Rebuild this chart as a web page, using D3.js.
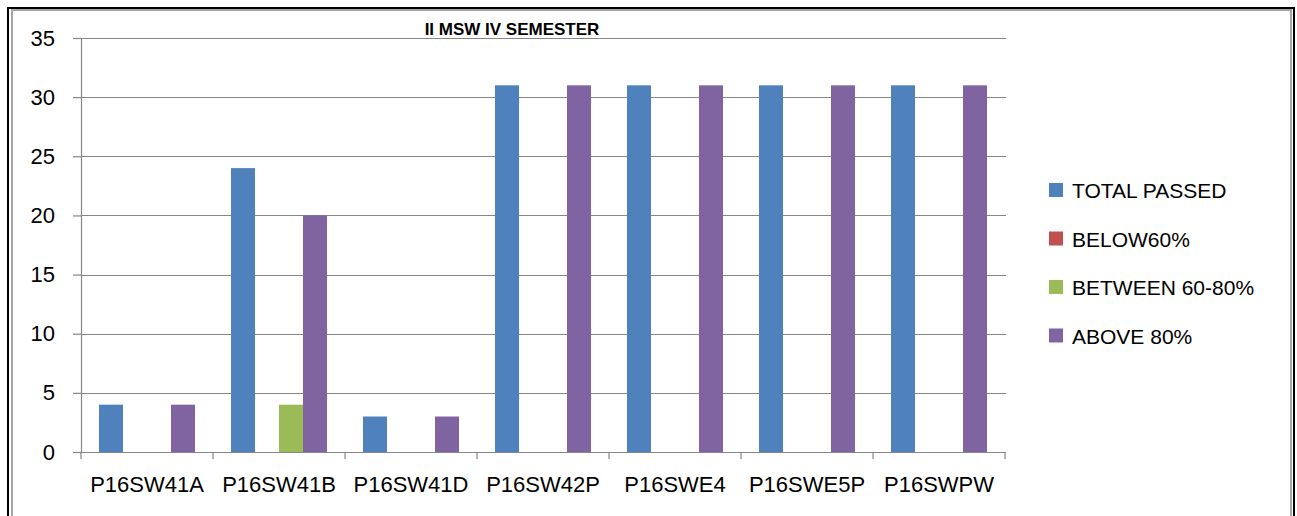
<!DOCTYPE html>
<html>
<head>
<meta charset="utf-8">
<script src="https://cdn.jsdelivr.net/npm/d3@7"></script>
<style>
  body { margin: 0; background: #fff; }
  text { font-family: "Liberation Sans", Arial, sans-serif; fill: #000; }
</style>
</head>
<body>
<div id="chart"></div>
<script>
// chart values
var categories = ["P16SW41A", "P16SW41B", "P16SW41D", "P16SW42P", "P16SWE4", "P16SWE5P", "P16SWPW"];
var seriesNames = ["TOTAL PASSED", "BELOW60%", "BETWEEN 60-80%", "ABOVE 80%"];
var totalPassed = [4, 24, 3, 31, 31, 31, 31];
var below60 = [0, 0, 0, 0, 0, 0, 0];
var between6080 = [0, 4, 0, 0, 0, 0, 0];
var above80 = [4, 20, 3, 31, 31, 31, 31];
var yTicks = [0, 5, 10, 15, 20, 25, 30, 35];
var titleText = "II MSW IV SEMESTER";

var seriesValues = [totalPassed, below60, between6080, above80];
var colors = ["#4F81BD", "#C0504D", "#9BBB59", "#8064A2"];

var svgWidth = 1297;
var svgHeight = 516;

var plot = { left: 81, right: 1005, top: 38, bottom: 452 };

var svg = d3.select("#chart")
  .append("svg")
  .attr("width", svgWidth)
  .attr("height", svgHeight);

// frame lines
svg.append("path")
  .attr("d", "M8,516 V8 H1294 V516")
  .attr("fill", "none")
  .attr("stroke", "#000")
  .attr("stroke-width", 2);

svg.append("path")
  .attr("d", "M12,516 V10 H1291 V516")
  .attr("fill", "none")
  .attr("stroke", "#a6a6a6")
  .attr("stroke-width", 2);

var yScale = d3.scaleLinear()
  .domain([0, 35])
  .range([plot.bottom, plot.top]);

var x0 = d3.scaleBand()
  .domain(categories)
  .range([plot.left, plot.right])
  .paddingInner(0)
  .paddingOuter(0);

var x1 = d3.scaleBand()
  .domain(seriesNames)
  .range([0, x0.bandwidth()])
  .paddingInner(0)
  .paddingOuter(0.75);

// gridlines
svg.append("g")
  .selectAll("line")
  .data(yTicks.filter(d => d > 0))
  .enter()
  .append("line")
  .attr("x1", plot.left)
  .attr("x2", plot.right + 1)
  .attr("y1", d => Math.round(yScale(d)) + 0.5)
  .attr("y2", d => Math.round(yScale(d)) + 0.5)
  .attr("stroke", "#868686")
  .attr("stroke-width", 1.2);

// y axis
var leftAxis = d3.axisLeft(yScale)
  .tickValues(yTicks)
  .tickSize(8)
  .tickPadding(18);

var yAxis = svg.append("g")
  .attr("transform", `translate(${plot.left}, 0)`)
  .call(leftAxis);

yAxis.select(".domain").attr("stroke", "#868686").attr("stroke-width", 1.2);
yAxis.selectAll(".tick line").attr("stroke", "#868686").attr("stroke-width", 1.2);
yAxis.selectAll(".tick text")
  .attr("font-size", "22px")
  .attr("font-family", "Liberation Sans, Arial, sans-serif")
  .attr("fill", "#000");

// bars
var groups = svg.append("g")
  .selectAll("g")
  .data(categories)
  .enter()
  .append("g")
  .attr("transform", d => `translate(${x0(d)}, 0)`);

groups.selectAll("rect")
  .data((d, i) => seriesNames.map((s, j) => ({ series: s, value: seriesValues[j][i], color: colors[j] })))
  .enter()
  .append("rect")
  .attr("x", d => x1(d.series))
  .attr("width", x1.bandwidth())
  .attr("y", d => yScale(d.value))
  .attr("height", d => yScale(0) - yScale(d.value))
  .attr("fill", d => d.color);

// x axis
var bottomAxis = d3.axisBottom(x0).tickSize(0).tickPadding(24);

var xAxis = svg.append("g")
  .attr("transform", `translate(0, ${plot.bottom})`)
  .call(bottomAxis);

xAxis.select(".domain").remove();
xAxis.selectAll(".tick text")
  .attr("font-size", "22px")
  .attr("font-family", "Liberation Sans, Arial, sans-serif")
  .attr("fill", "#000");

xAxis.append("line")
  .attr("x1", plot.left)
  .attr("x2", plot.right + 1)
  .attr("y1", 0.5)
  .attr("y2", 0.5)
  .attr("stroke", "#868686")
  .attr("stroke-width", 1.2);

xAxis.selectAll(".sep")
  .data(categories.concat(["end"]))
  .enter()
  .append("line")
  .attr("class", "sep")
  .attr("x1", (d, i) => plot.left + i * x0.step())
  .attr("x2", (d, i) => plot.left + i * x0.step())
  .attr("y1", 0)
  .attr("y2", 7)
  .attr("stroke", "#868686")
  .attr("stroke-width", 1.2);

// title
svg.append("text")
  .attr("x", 512)
  .attr("y", 35)
  .attr("text-anchor", "middle")
  .attr("font-size", "17px")
  .attr("font-weight", "bold")
  .text(titleText);

// legend
var legend = svg.append("g")
  .selectAll("g")
  .data(seriesNames)
  .enter()
  .append("g")
  .attr("transform", (d, i) => `translate(1049, ${183 + i * 48.5})`);

legend.append("rect")
  .attr("width", 14)
  .attr("height", 14)
  .attr("fill", (d, i) => colors[i]);

legend.append("text")
  .attr("x", 23)
  .attr("y", 15)
  .attr("font-size", "21px")
  .text(d => d);
</script>
</body>
</html>
